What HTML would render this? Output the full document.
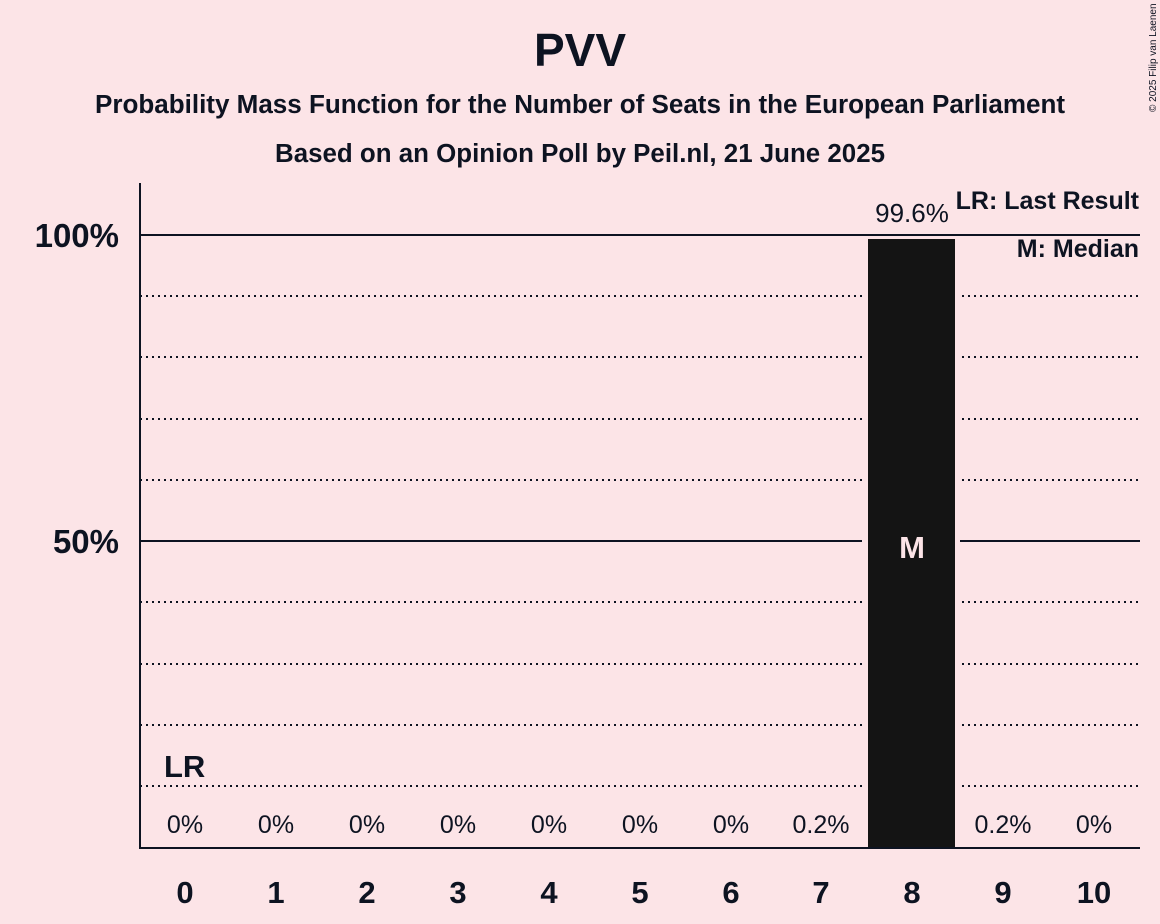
<!DOCTYPE html>
<html><head><meta charset="utf-8"><style>
html,body{margin:0;padding:0;background:#fce4e7;}
svg{display:block;font-family:"Liberation Sans",sans-serif;}
</style></head><body>
<svg width="1160" height="924" viewBox="0 0 1160 924" xmlns="http://www.w3.org/2000/svg">
<rect width="1160" height="924" fill="#fce4e7"/>
<text x="580" y="66" text-anchor="middle" font-size="46" font-weight="bold" fill="#0d1321">PVV</text>
<text x="580" y="113" text-anchor="middle" font-size="25.5" font-weight="bold" fill="#0d1321" textLength="970" lengthAdjust="spacingAndGlyphs">Probability Mass Function for the Number of Seats in the European Parliament</text>
<text x="580" y="162" text-anchor="middle" font-size="25.5" font-weight="bold" fill="#0d1321" textLength="610" lengthAdjust="spacingAndGlyphs">Based on an Opinion Poll by Peil.nl, 21 June 2025</text>
<text transform="translate(1156,112) rotate(-90)" font-size="10" fill="#0d1321">© 2025 Filip van Laenen</text>
<g stroke="#0d1321" stroke-width="2" stroke-dasharray="2,4">
<line x1="140" y1="296" x2="1140" y2="296"/>
<line x1="140" y1="357" x2="1140" y2="357"/>
<line x1="140" y1="419" x2="1140" y2="419"/>
<line x1="140" y1="480" x2="1140" y2="480"/>
<line x1="140" y1="602" x2="1140" y2="602"/>
<line x1="140" y1="664" x2="1140" y2="664"/>
<line x1="140" y1="725" x2="1140" y2="725"/>
<line x1="140" y1="786" x2="1140" y2="786"/>
</g>
<g stroke="#0d1321" stroke-width="2">
<line x1="140" y1="235" x2="1140" y2="235"/>
<line x1="140" y1="541" x2="1140" y2="541"/>
</g>
<rect x="862" y="250" width="98" height="597" fill="#fce4e7"/>
<rect x="868" y="239" width="87" height="609" fill="#141414"/>
<g stroke="#0d1321" stroke-width="2">
<line x1="140" y1="183" x2="140" y2="848"/>
<line x1="139" y1="848" x2="1140" y2="848"/>
</g>
<g font-size="33" font-weight="bold" fill="#0d1321" text-anchor="end">
<text x="119" y="247">100%</text>
<text x="119" y="553">50%</text>
</g>
<g font-size="31" font-weight="bold" fill="#0d1321" text-anchor="middle">
<text x="185" y="903">0</text><text x="276" y="903">1</text><text x="367" y="903">2</text>
<text x="458" y="903">3</text><text x="549" y="903">4</text><text x="640" y="903">5</text>
<text x="731" y="903">6</text><text x="821" y="903">7</text><text x="912" y="903">8</text>
<text x="1003" y="903">9</text><text x="1094" y="903">10</text>
</g>
<g font-size="25" fill="#0d1321" text-anchor="middle">
<text x="185" y="833">0%</text><text x="276" y="833">0%</text><text x="367" y="833">0%</text>
<text x="458" y="833">0%</text><text x="549" y="833">0%</text><text x="640" y="833">0%</text>
<text x="731" y="833">0%</text><text x="821" y="833">0.2%</text>
<text x="1003" y="833">0.2%</text><text x="1094" y="833">0%</text>
<text x="912" y="222" font-size="26">99.6%</text>
</g>
<text x="912" y="558" text-anchor="middle" font-size="31" font-weight="bold" fill="#fce4e7">M</text>
<text x="164" y="777" font-size="31" font-weight="bold" fill="#0d1321">LR</text>
<g font-size="25" font-weight="bold" fill="#0d1321" text-anchor="end">
<text x="1139" y="209">LR: Last Result</text>
<text x="1139" y="257">M: Median</text>
</g>
</svg>
</body></html>
